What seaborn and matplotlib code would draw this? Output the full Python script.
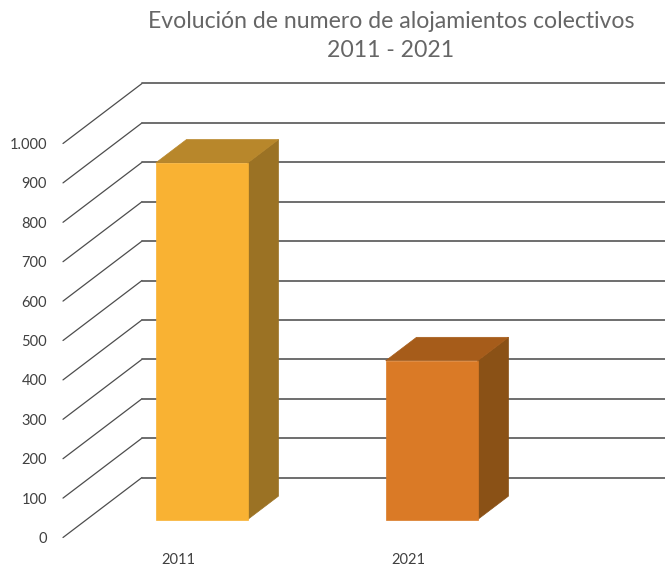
import pandas as pd
import seaborn as sns
import matplotlib.pyplot as plt

sns.set_style("white")
plt.rcParams["font.family"] = ["Lato", "DejaVu Sans"]

years = ["2011", "2021"]
alojamientos = [905, 403]
front_colors = ["#F9B233", "#DA7A26"]
top_colors = ["#B8872B", "#A65C1A"]
side_colors = ["#9B7224", "#8A5116"]
y_ticks = [0, 100, 200, 300, 400, 500, 600, 700, 800, 900, 1000]
y_labels = ["0", "100", "200", "300", "400", "500", "600", "700", "800", "900", "1.000"]

W, H = 665, 567
# how far the back wall sits from the front plane, in data units
DEPTH_X = 79 / 230
DEPTH_Y = 60 / 0.394
BAR_FRONT = 0.30
BAR_BACK = 0.69
X_MIN, X_MAX = -0.5, 1.774


def project(x, y, depth):
    return x + depth * DEPTH_X, y + depth * DEPTH_Y


df = pd.DataFrame({"year": years, "alojamientos": alojamientos})

fig = plt.figure(figsize=(W / 100, H / 100), dpi=100)
ax = fig.add_axes([63 / W, (H - 537.5) / H, 523 / W, 394 / H])

## Part 1: walls
for v in y_ticks:
    x0, y0 = project(X_MIN, v, 0)
    x1, y1 = project(X_MIN, v, 1)
    x2, y2 = project(X_MAX, v, 1)
    ax.plot([x0, x1], [y0, y1], color="#4d4d4d", lw=0.9, clip_on=False, zorder=1)
    ax.plot([x1, x2], [y1, y2], color="#626262", lw=1.3, clip_on=False, zorder=1)

## Part 2: bars, front face from seaborn, then top and side
sns.barplot(
    ax=ax,
    data=df,
    x="year",
    y="alojamientos",
    hue="year",
    palette=front_colors,
    width=0.4,
    legend=False,
    saturation=1,
    zorder=4,
)

for i, bar in enumerate(ax.patches):
    left = bar.get_x()
    right = left + bar.get_width()
    height = bar.get_height()
    side = [
        project(right, 0, BAR_FRONT),
        project(right, 0, BAR_BACK),
        project(right, height, BAR_BACK),
        project(right, height, BAR_FRONT),
    ]
    top = [
        project(left, height, BAR_FRONT),
        project(left, height, BAR_BACK),
        project(right, height, BAR_BACK),
        project(right, height, BAR_FRONT),
    ]
    ax.fill(*zip(*side), color=side_colors[i], lw=0.5, clip_on=False, zorder=3)
    ax.fill(*zip(*top), color=top_colors[i], lw=0.5, clip_on=False, zorder=3)
    front_x, front_y = project(left, 0, BAR_FRONT)
    bar.set_x(front_x)
    bar.set_y(front_y)
    bar.set_edgecolor(front_colors[i])
    bar.set_linewidth(0.5)
    bar.set_clip_on(False)

## Part 3: axes and text
ax.set_xlim(X_MIN, X_MAX)
ax.set_ylim(0, 1000)
ax.set_yticks(y_ticks, y_labels)
ax.set_xlabel("")
ax.set_ylabel("")
ax.tick_params(axis="y", length=0, pad=11.5, labelsize=10.5, labelcolor="#404040")
ax.tick_params(axis="x", length=0, pad=11.5, labelsize=10.5, labelcolor="#404040")
sns.despine(ax=ax, left=True, bottom=True)
ax.patch.set_alpha(0)

fig.text(
    391 / W,
    1 - 36 / H,
    "Evolución de numero de alojamientos colectivos\n2011 - 2021",
    ha="center",
    va="center",
    fontsize=16.6,
    color="#666666",
    linespacing=1.5,
)

fig.savefig("out.png", dpi=100)
